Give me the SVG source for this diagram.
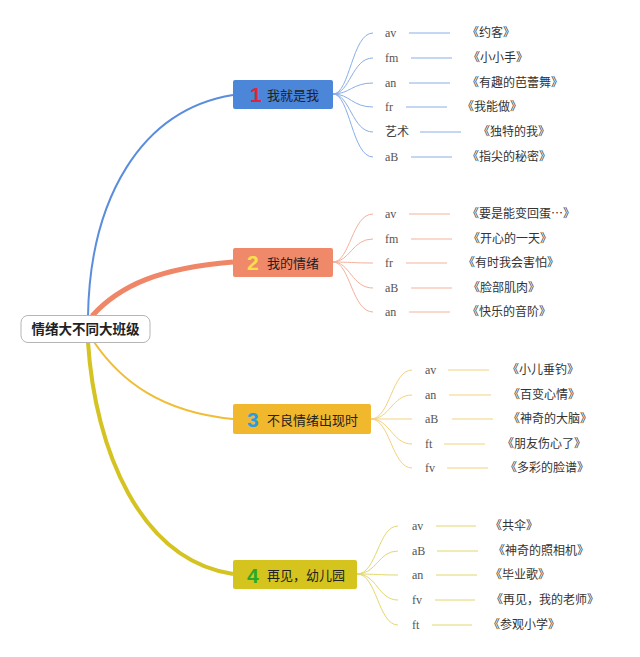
<svg xmlns="http://www.w3.org/2000/svg" width="640" height="657" viewBox="0 0 640 657">
<style>
.lbl{font-family:"Liberation Serif","DejaVu Serif",serif;font-size:12px;fill:#555}
.lblc{font-family:"Noto Sans CJK SC",sans-serif;font-size:12px;fill:#444}
.ttl{font-family:"Noto Sans CJK SC",sans-serif;font-size:12px;fill:#333}
.bt{font-family:"Noto Sans CJK SC",sans-serif;font-size:13px;fill:#222}
.num{font-family:"Liberation Sans","Noto Sans",sans-serif;font-size:21px;font-weight:bold}
.c1{stroke:#8aaee6;fill:none;stroke-width:1}
.c2{stroke:#f3b19c;fill:none;stroke-width:1}
.c3{stroke:#f2d27e;fill:none;stroke-width:1}
.c4{stroke:#e2d86e;fill:none;stroke-width:1}
</style>
<rect width="640" height="657" fill="#fff"/>
<g id="connectors">
<path d="M88,316 C90,200 140,110 233,95" stroke="#5b8ddd" stroke-width="2" fill="none"/>
<path d="M92,316 C120,285 160,268 233,262" stroke="#ef8667" stroke-width="5" fill="none"/>
<path d="M94,342 C120,380 160,412 233,419" stroke="#f0bd35" stroke-width="2" fill="none"/>
<path d="M88,342 C95,450 140,560 233,574" stroke="#d4c320" stroke-width="4" fill="none"/>
<g class="c1">
<path d="M333,94 C350,94 352,33 373,33"/><path d="M333,94 C350,94 352,58 373,58"/><path d="M333,94 C350,94 352,83 373,83"/><path d="M333,94 C350,94 352,107 373,107"/><path d="M333,94 C350,94 352,132 373,132"/><path d="M333,94 C350,94 352,157 373,157"/>
<path d="M409,33H450M411,58H452M409,83H450M406,107H447M420,132H461M411,157H452"/>
</g>
<g class="c2">
<path d="M333,262 C350,262 352,214 373,214"/><path d="M333,262 C350,262 352,239 373,239"/><path d="M333,262 C350,262 352,263 373,263"/><path d="M333,262 C350,262 352,288 373,288"/><path d="M333,262 C350,262 352,312 373,312"/>
<path d="M409,214H450M411,239H452M406,263H447M411,288H452M409,312H450"/>
</g>
<g class="c3">
<path d="M371,419 C390,419 392,370 412,370"/><path d="M371,419 C390,419 392,395 412,395"/><path d="M371,419 C390,419 392,419 412,419"/><path d="M371,419 C390,419 392,444 412,444"/><path d="M371,419 C390,419 392,468 412,468"/>
<path d="M448,370H489M449,395H491M452,419H493M444,444H485M447,468H488"/>
</g>
<g class="c4">
<path d="M357,574 C377,574 378,526 398,526"/><path d="M357,574 C377,574 378,551 398,551"/><path d="M357,574 C377,574 378,575 398,575"/><path d="M357,574 C377,574 378,600 398,600"/><path d="M357,574 C377,574 378,625 398,625"/>
<path d="M436,526H476M437,551H478M436,575H477M435,600H475M432,625H472"/>
</g>
</g>
<g id="root">
<rect x="21" y="315.5" width="129" height="27" rx="7" fill="#fff" stroke="#b5b5b5" stroke-width="1"/>
<text x="85.5" y="334" text-anchor="middle" font-family="Noto Sans CJK SC,sans-serif" font-size="13.5" font-weight="bold" fill="#222">情绪大不同大班级</text>
</g>
<g id="b1">
<rect x="233" y="80" width="100" height="29" rx="2" fill="#4b86d9"/>
<text x="250" y="102" class="num" fill="#e0243a">1</text>
<text x="267" y="100" class="bt">我就是我</text>
</g>
<g id="b2">
<rect x="233" y="248" width="100" height="29" rx="2" fill="#f0896a"/>
<text x="247" y="270" class="num" fill="#f7e04a">2</text>
<text x="267" y="268" class="bt">我的情绪</text>
</g>
<g id="b3">
<rect x="233" y="404" width="138" height="30" rx="2" fill="#f1b72d"/>
<text x="247" y="427" class="num" fill="#2b9be0">3</text>
<text x="267" y="425" class="bt">不良情绪出现时</text>
</g>
<g id="b4">
<rect x="233" y="560" width="124" height="29" rx="2" fill="#d5c31e"/>
<text x="247" y="583" class="num" fill="#2aa82a">4</text>
<text x="267" y="580" class="bt">再见，幼儿园</text>
</g>
<g id="leaves1">
<text x="385" y="37" class="lbl">av</text><text x="467" y="37" class="ttl">《约客》</text>
<text x="385" y="62" class="lbl">fm</text><text x="468" y="62" class="ttl">《小小手》</text>
<text x="385" y="87" class="lbl">an</text><text x="467" y="87" class="ttl">《有趣的芭蕾舞》</text>
<text x="385" y="111" class="lbl">fr</text><text x="462" y="111" class="ttl">《我能做》</text>
<text x="385" y="136" class="lblc">艺术</text><text x="478" y="136" class="ttl">《独特的我》</text>
<text x="385" y="161" class="lbl">aB</text><text x="467" y="161" class="ttl">《指尖的秘密》</text>
</g>
<g id="leaves2">
<text x="385" y="218" class="lbl">av</text><text x="467" y="218" class="ttl">《要是能变回蛋…》</text>
<text x="385" y="243" class="lbl">fm</text><text x="468" y="243" class="ttl">《开心的一天》</text>
<text x="385" y="267" class="lbl">fr</text><text x="463" y="267" class="ttl">《有时我会害怕》</text>
<text x="385" y="292" class="lbl">aB</text><text x="468" y="292" class="ttl">《脸部肌肉》</text>
<text x="385" y="316" class="lbl">an</text><text x="467" y="316" class="ttl">《快乐的音阶》</text>
</g>
<g id="leaves3">
<text x="425" y="374" class="lbl">av</text><text x="507" y="374" class="ttl">《小儿垂钓》</text>
<text x="425" y="399" class="lbl">an</text><text x="508" y="399" class="ttl">《百变心情》</text>
<text x="425" y="423" class="lbl">aB</text><text x="508" y="423" class="ttl">《神奇的大脑》</text>
<text x="425" y="448" class="lbl">ft</text><text x="502" y="448" class="ttl">《朋友伤心了》</text>
<text x="425" y="472" class="lbl">fv</text><text x="505" y="472" class="ttl">《多彩的脸谱》</text>
</g>
<g id="leaves4">
<text x="412" y="530" class="lbl">av</text><text x="490" y="530" class="ttl">《共伞》</text>
<text x="412" y="555" class="lbl">aB</text><text x="493" y="555" class="ttl">《神奇的照相机》</text>
<text x="412" y="579" class="lbl">an</text><text x="490" y="579" class="ttl">《毕业歌》</text>
<text x="412" y="604" class="lbl">fv</text><text x="491" y="604" class="ttl">《再见，我的老师》</text>
<text x="412" y="629" class="lbl">ft</text><text x="488" y="629" class="ttl">《参观小学》</text>
</g>
</svg>
